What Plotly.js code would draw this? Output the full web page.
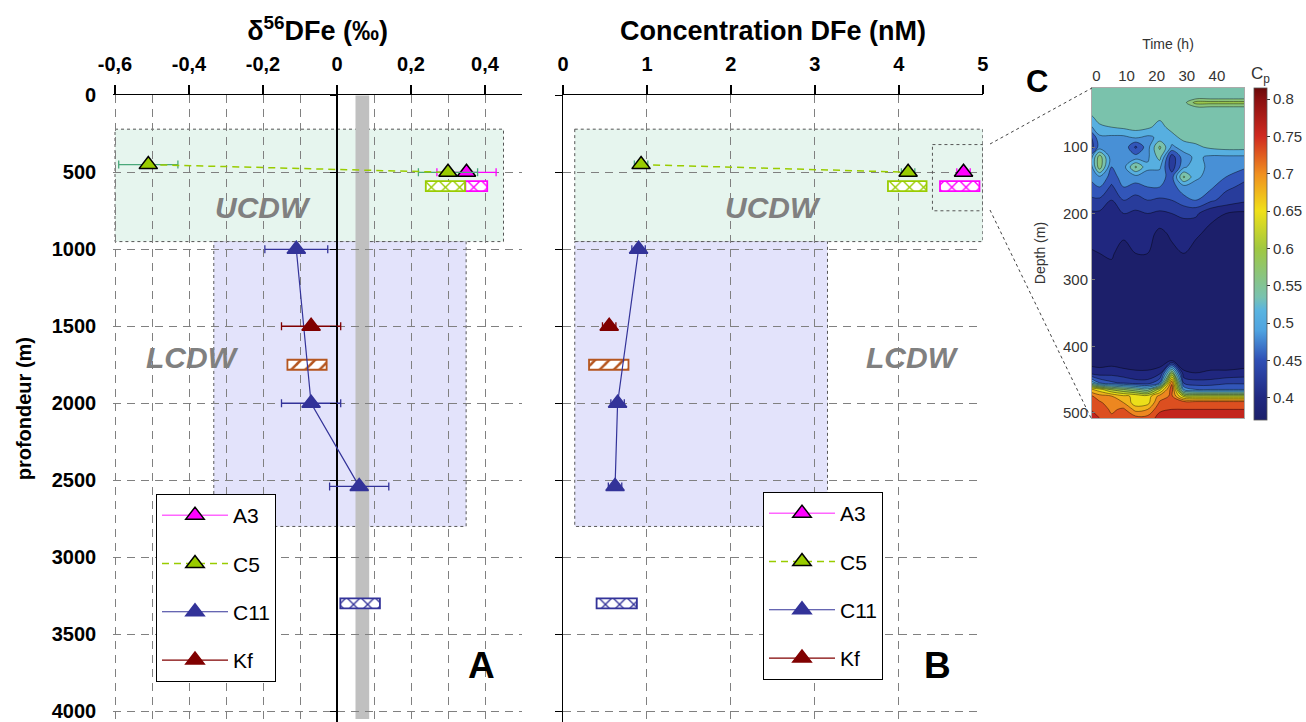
<!DOCTYPE html>
<html><head><meta charset="utf-8">
<script src="https://cdn.plot.ly/plotly-3.0.1.min.js"></script>
<style>html,body{margin:0;padding:0;background:#fff}#chart{width:1306px;height:722px}</style>
</head><body><div id="chart"></div>
<script>
// ---------- data ----------
const depthA3 = [500];            const feA3 = [0.35];              const feErrA3 = [0.08];
const concA3 = [4.77];            const concErrA3 = [0.08];
const depthC5 = [450, 500];       const feC5 = [-0.51, 0.30];        const feErrC5 = [0.08, 0.08];
const concC5 = [0.93, 4.11];      const concErrC5 = [0.08, 0.08];
const depthC11 = [1000, 2000, 2540]; const feC11 = [-0.11, -0.07, 0.06]; const feErrC11 = [0.085, 0.08, 0.08];
const concC11 = [0.90, 0.65, 0.62];  const concErrC11 = [0.08, 0.08, 0.08];
const depthKf = [1500];           const feKf = [-0.07];             const feErrKf = [0.08];
const concKf = [0.55];            const concErrKf = [0.08];

// hatched boxes (A3, C5, Kf, C11)
const hatchDepth = [590, 590, 1750, 3300];
const hatchFeLo = [0.347, 0.24, -0.134, 0.009];
const hatchFeHi = [0.406, 0.346, -0.028, 0.116];
const hatchConcLo = [4.49, 3.87, 0.31, 0.40];
const hatchConcHi = [4.96, 4.33, 0.78, 0.88];

// water masses
const ucdwDepth = [220, 950];
const lcdwDepth = [950, 2800];
const ucdwFe = [-0.6, 0.45];  const lcdwFe = [-0.333, 0.349];
const ucdwConc = [0.14, 5.0]; const lcdwConc = [0.14, 3.15];
const greyBandFe = [0.05, 0.087]; const greyBandDepth = [0, 4050];
const zoomBoxConc = [4.4, 5.0]; const zoomBoxDepth = [320, 750];

// tick labels
const depthTicks = [0, 500, 1000, 1500, 2000, 2500, 3000, 3500, 4000];
const depthTickText = ['0','500','1000','1500','2000','2500','3000','3500','4000'];
const feTicks = [-0.6, -0.4, -0.2, 0, 0.2, 0.4];
const feTickText = ['-0,6','-0,4','-0,2','0','0,2','0,4'];
const feMinor = [-0.5, -0.3, -0.1, 0.1, 0.3, 0.5];
const concTicks = [0, 1, 2, 3, 4, 5];
const concTickText = ['0','1','2','3','4','5'];

// panel C (Cp vs time & depth)
const timeH = [-2, 1, 5, 9, 13, 17, 21, 25, 29, 33, 38, 43, 49];
const depthC = [11, 25, 33, 42, 55, 70, 85, 100, 115, 130, 145, 160, 180, 200, 230, 260, 290, 330, 380, 420, 440, 455, 465, 475, 485, 495, 508];
const cp = [
 [.56,.56,.56,.56,.56,.56,.56,.56,.56,.56,.56,.56,.56],
 [.56,.56,.56,.56,.56,.56,.56,.56,.56,.56,.56,.56,.56],
 [.56,.56,.56,.56,.56,.56,.56,.56,.565,.61,.61,.61,.61],
 [.56,.56,.56,.56,.56,.56,.56,.56,.56,.56,.56,.56,.56],
 [.545,.56,.56,.56,.56,.56,.555,.56,.56,.56,.56,.56,.56],
 [.52,.545,.55,.555,.56,.555,.54,.56,.56,.56,.56,.56,.56],
 [.47,.52,.52,.52,.53,.52,.53,.54,.56,.56,.56,.56,.56],
 [.46,.51,.515,.52,.47,.515,.58,.52,.535,.545,.555,.56,.56],
 [.51,.59,.51,.52,.51,.52,.56,.46,.515,.53,.52,.52,.52],
 [.51,.59,.50,.515,.58,.53,.53,.46,.52,.54,.515,.51,.505],
 [.505,.52,.49,.51,.515,.515,.51,.49,.58,.53,.515,.50,.48],
 [.49,.50,.47,.50,.49,.50,.50,.49,.515,.515,.505,.48,.47],
 [.47,.47,.45,.475,.465,.475,.47,.475,.49,.50,.48,.465,.455],
 [.445,.445,.43,.45,.445,.45,.445,.45,.455,.455,.43,.425,.42],
 [.435,.435,.435,.43,.435,.435,.418,.43,.435,.428,.42,.415,.41],
 [.422,.425,.428,.415,.425,.425,.41,.418,.425,.418,.41,.405,.405],
 [.41,.412,.418,.408,.414,.413,.405,.41,.416,.41,.405,.402,.40],
 [.40,.40,.40,.40,.40,.40,.40,.40,.40,.40,.40,.40,.40],
 [.40,.40,.40,.40,.40,.40,.40,.40,.40,.40,.40,.40,.40],
 [.41,.41,.41,.405,.405,.405,.405,.41,.405,.405,.405,.405,.405],
 [.44,.435,.44,.435,.43,.43,.44,.60,.43,.425,.43,.43,.435],
 [.55,.50,.48,.47,.46,.46,.50,.72,.47,.46,.46,.47,.47],
 [.68,.66,.62,.60,.58,.56,.64,.74,.52,.50,.50,.50,.50],
 [.73,.71,.70,.68,.67,.66,.71,.73,.64,.63,.63,.63,.63],
 [.745,.73,.71,.70,.66,.665,.73,.74,.745,.745,.745,.745,.745],
 [.75,.74,.72,.73,.69,.70,.745,.75,.75,.75,.75,.75,.75],
 [.755,.75,.73,.745,.735,.735,.76,.755,.755,.755,.755,.755,.755]
];
const timeTicks = [0, 10, 20, 30, 40];
const depthCTicks = [100, 200, 300, 400, 500];
const cpTicks = [0.4, 0.45, 0.5, 0.55, 0.6, 0.65, 0.7, 0.75, 0.8];
const cpTickText = ['0.4','0.45','0.5','0.55','0.6','0.65','0.7','0.75','0.8'];

// ---------- style ----------
const W = 1306, H = 722;
const FONT = 'Liberation Sans, Arial, sans-serif';
const px = v => v / W, py = v => 1 - v / H;
const col = {A3:'#ff00ff', C5:'#99cc00', C11:'#333399', Kf:'#800000', C5err:'#4aa87a', KfHatch:'#b5561f'};
const hatchColors = [col.A3, col.C5, col.KfHatch, col.C11];
const hatchShapes = ['x', 'x', '/', 'x'];

const xDomA = [px(113.15), px(522)], xDomB = [px(563), px(983)];
const yDom = [0, py(95.3)];
const depthRange = [4070, 0];
const feRange = [-0.605, 0.5];
const zeroPos = xDomA[0] + (0 - feRange[0]) / (feRange[1] - feRange[0]) * (xDomA[1] - xDomA[0]);

function station(name, xs, ys, err, errColor, xa, ya, leg, extra) {
  const fill = col[name];
  const outline = (name === 'A3' || name === 'C5') ? '#000' : fill;
  return Object.assign({
    type: 'scatter', mode: 'lines+markers', name: name, x: xs, y: ys,
    xaxis: xa, yaxis: ya, legend: leg, legendgroup: name + leg,
    line: {color: fill, width: 1.2},
    marker: {symbol: 'triangle-up', size: 16, color: fill, line: {color: outline, width: 1.5}},
    error_x: {type: 'data', array: err, color: errColor, thickness: 1.3, width: 4},
    hoverinfo: 'skip'
  }, extra || {});
}

function hatchTrace(lo, hi, xa, ya) {
  return {
    type: 'bar', orientation: 'h', y: hatchDepth, base: lo,
    x: hi.map((h, i) => h - lo[i]), width: hatchDepth.map(() => 65),
    xaxis: xa, yaxis: ya, showlegend: false, hoverinfo: 'skip',
    marker: {color: '#ffffff', line: {color: hatchColors, width: 1.8},
      pattern: {shape: hatchShapes, fgcolor: hatchColors, bgcolor: '#ffffff', size: 10, solidity: 0.25}}
  };
}

const c5Dash = {line: {color: col.C5, width: 1.5, dash: '7px,5px'}};
const traces = [
  {type: 'scatter', x: [], y: [], xaxis: 'x', yaxis: 'y4', showlegend: false, hoverinfo: 'skip'},
  hatchTrace(hatchFeLo, hatchFeHi, 'x', 'y'),
  hatchTrace(hatchConcLo, hatchConcHi, 'x2', 'y2'),
  station('A3', feA3, depthA3, feErrA3, col.A3, 'x', 'y', 'legend', {line: {color: '#ff66ff', width: 1.5}}),
  station('C5', feC5, depthC5, feErrC5, col.C5err, 'x', 'y', 'legend', c5Dash),
  station('C11', feC11, depthC11, feErrC11, col.C11, 'x', 'y', 'legend'),
  station('Kf', feKf, depthKf, feErrKf, col.Kf, 'x', 'y', 'legend'),
  station('A3', concA3, depthA3, concErrA3, col.A3, 'x2', 'y2', 'legend2', {line: {color: '#ff66ff', width: 1.5}}),
  station('C5', concC5, depthC5, concErrC5, col.C5err, 'x2', 'y2', 'legend2', c5Dash),
  station('C11', concC11, depthC11, concErrC11, col.C11, 'x2', 'y2', 'legend2'),
  station('Kf', concKf, depthKf, concErrKf, col.Kf, 'x2', 'y2', 'legend2')
];

const cpScale = [[0,'#1c1f6a'],[0.067,'#202880'],[0.18,'#2f4fb5'],[0.27,'#4fa3e0'],[0.33,'#5ab4e0'],[0.37,'#79c2b0'],
  [0.517,'#a0c840'],[0.63,'#f0e018'],[0.74,'#f09020'],[0.854,'#d02a20'],[0.966,'#8a1010'],[1,'#6a0808']];
traces.push({
  type: 'heatmap', x: timeH, y: depthC, z: cp, xaxis: 'x3', yaxis: 'y3',
  colorscale: cpScale, zmin: 0.37, zmax: 0.815, zauto: false, hoverinfo: 'skip',
  colorbar: {x: px(1254), xanchor: 'left', xref: 'paper', y: py(420), yanchor: 'bottom',
    len: 332 / H, lenmode: 'fraction', thickness: 13, thicknessmode: 'pixels', xpad: 0, ypad: 0,
    outlinewidth: 0.8, outlinecolor: '#555', tickvals: cpTicks, ticktext: cpTickText,
    ticks: 'outside', ticklen: 3, tickcolor: '#333', tickfont: {family: FONT, size: 15, color: '#333'}}
});
traces.push({
  type: 'contour', x: timeH, y: depthC, z: cp, xaxis: 'x3', yaxis: 'y3',
  colorscale: cpScale, zmin: 0.37, zmax: 0.815, zauto: false, showscale: false, hoverinfo: 'skip',
  contours: {start: 0.425, end: 0.8, size: 0.025, coloring: 'fill'},
  line: {color: 'rgba(0,0,0,0.7)', width: 0.6, smoothing: 1}
});

const gridStyle = {showgrid: true, gridcolor: '#808080', gridwidth: 1, griddash: '8px,6px'};
const boldTick = {family: FONT, size: 20, color: '#000', weight: 'bold'};

function box(xr, yr, xa, ya, fill) {
  return {type: 'rect', xref: xa, yref: ya, x0: xr[0], x1: xr[1], y0: yr[0], y1: yr[1],
    fillcolor: fill, line: {color: '#555', width: 1, dash: 'dot'}, layer: 'below'};
}

const legendBase = {xanchor: 'left', yanchor: 'top', bgcolor: '#fff', bordercolor: '#000', borderwidth: 1,
  font: {family: FONT, size: 21, color: '#000'}, tracegroupgap: 18, itemwidth: 66};

const layout = {
  width: W, height: H, margin: {l: 0, r: 0, t: 0, b: 0},
  paper_bgcolor: '#fff', plot_bgcolor: 'rgba(0,0,0,0)',
  font: {family: FONT, color: '#000'},
  barmode: 'overlay', showlegend: true,
  xaxis: Object.assign({domain: xDomA, range: feRange, side: 'top', anchor: 'y',
    showline: true, linecolor: '#000', linewidth: 1.5, ticks: 'outside', ticklen: 9, tickwidth: 1.5, tickcolor: '#000',
    tickvals: feTicks, ticktext: feTickText, tickfont: boldTick, ticklabelstandoff: 6,
    minor: {tickvals: feMinor, showgrid: true, gridcolor: '#808080', griddash: '8px,6px', gridwidth: 1, ticks: ''},
    zeroline: true, zerolinecolor: '#000', zerolinewidth: 1.5, fixedrange: true,
    title: {text: '<b>δ<sup>56</sup>DFe (‰)</b>', font: {family: FONT, size: 27}, standoff: 4}}, gridStyle),
  yaxis: Object.assign({domain: yDom, range: depthRange, anchor: 'x', tickvals: depthTicks, ticktext: depthTickText,
    tickfont: boldTick, ticks: '', ticklabelstandoff: 16, ticklabeloverflow: 'allow', showline: false, zeroline: false,
    title: {text: '<b>profondeur (m)</b>', font: {family: FONT, size: 20}, standoff: 14}}, gridStyle),
  yaxis4: {overlaying: 'y', anchor: 'free', position: zeroPos, side: 'left', range: depthRange,
    tickvals: depthTicks, ticks: 'outside', ticklen: 7, tickwidth: 1.2, tickcolor: '#000', showticklabels: false,
    showgrid: false, zeroline: false, showline: false},
  xaxis2: Object.assign({domain: xDomB, range: [0, 5.002], side: 'top', anchor: 'y2',
    showline: true, linecolor: '#000', linewidth: 1.5, ticks: 'outside', ticklen: 9, tickwidth: 1.5, tickcolor: '#000',
    tickvals: concTicks, ticktext: concTickText, tickfont: boldTick, ticklabelstandoff: 6, zeroline: false,
    title: {text: '<b>Concentration DFe (nM)</b>', font: {family: FONT, size: 27}, standoff: 4}}, gridStyle),
  yaxis2: Object.assign({domain: yDom, range: depthRange, anchor: 'x2', tickvals: depthTicks,
    showline: true, linecolor: '#000', linewidth: 1.5, ticks: 'outside', ticklen: 7, tickwidth: 1.2, tickcolor: '#000',
    showticklabels: false, zeroline: false}, gridStyle),
  xaxis3: {domain: [px(1092), px(1244)], range: [-1.5, 49], side: 'top', anchor: 'y3',
    tickvals: timeTicks, ticks: '', tickfont: {family: FONT, size: 15, color: '#333'},
    showline: true, mirror: true, linecolor: '#aaa', linewidth: 1, showgrid: false, zeroline: false,
    title: {text: 'Time (h)', font: {family: FONT, size: 14, color: '#333'}, standoff: 14}},
  yaxis3: {domain: [py(418), py(88)], range: [508, 11], anchor: 'x3',
    tickvals: depthCTicks, ticks: 'inside', ticklen: 3, tickcolor: '#777', tickfont: {family: FONT, size: 15, color: '#333'},
    showline: true, mirror: true, linecolor: '#aaa', linewidth: 1, showgrid: false, zeroline: false,
    title: {text: 'Depth (m)', font: {family: FONT, size: 14, color: '#333'}, standoff: 14}},
  legend: Object.assign({x: px(156), y: py(494)}, legendBase),
  legend2: Object.assign({x: px(763), y: py(492)}, legendBase),
  shapes: [
    box(ucdwFe, ucdwDepth, 'x', 'y', '#e6f5ee'),
    box(lcdwFe, lcdwDepth, 'x', 'y', '#e3e3fb'),
    {type: 'rect', xref: 'x', yref: 'y', x0: greyBandFe[0], x1: greyBandFe[1], y0: greyBandDepth[0], y1: greyBandDepth[1],
      fillcolor: '#c0c0c0', line: {width: 0}, layer: 'below'},
    box(ucdwConc, ucdwDepth, 'x2', 'y2', '#e6f5ee'),
    box(lcdwConc, lcdwDepth, 'x2', 'y2', '#e3e3fb'),
    {type: 'rect', xref: 'x2', yref: 'y2', x0: zoomBoxConc[0], x1: zoomBoxConc[1], y0: zoomBoxDepth[0], y1: zoomBoxDepth[1],
      line: {color: '#555', width: 1, dash: 'dot'}},
    {type: 'line', xref: 'paper', yref: 'paper', x0: px(990), y0: py(144), x1: px(1092), y1: py(88), line: {color: '#444', width: 1, dash: 'dot'}},
    {type: 'line', xref: 'paper', yref: 'paper', x0: px(990), y0: py(210), x1: px(1091), y1: py(418), line: {color: '#444', width: 1, dash: 'dot'}}
  ],
  annotations: [
    {xref: 'x', yref: 'y', x: -0.2, y: 730, text: '<b><i>UCDW</i></b>', showarrow: false, font: {family: FONT, size: 30, color: '#808080'}},
    {xref: 'x2', yref: 'y2', x: 2.5, y: 730, text: '<b><i>UCDW</i></b>', showarrow: false, font: {family: FONT, size: 30, color: '#808080'}},
    {xref: 'x', yref: 'y', x: -0.39, y: 1700, text: '<b><i>LCDW</i></b>', showarrow: false, font: {family: FONT, size: 30, color: '#808080'}},
    {xref: 'x2', yref: 'y2', x: 4.16, y: 1700, text: '<b><i>LCDW</i></b>', showarrow: false, font: {family: FONT, size: 30, color: '#808080'}},
    {xref: 'x', yref: 'y', x: 0.39, y: 3700, text: '<b>A</b>', showarrow: false, font: {family: FONT, size: 37, color: '#000'}},
    {xref: 'x2', yref: 'y2', x: 4.46, y: 3700, text: '<b>B</b>', showarrow: false, font: {family: FONT, size: 37, color: '#000'}},
    {xref: 'paper', yref: 'paper', x: px(1050), y: py(62), text: '<b>C</b>', showarrow: false, font: {family: FONT, size: 31, color: '#000'}},
    {xref: 'paper', yref: 'paper', x: px(1272), y: py(62), text: 'C<sub>p</sub>', showarrow: false, font: {family: FONT, size: 17, color: '#333'}}
  ]
};

Plotly.newPlot('chart', traces, layout, {displayModeBar: false, staticPlot: true});
</script>
</body></html>
